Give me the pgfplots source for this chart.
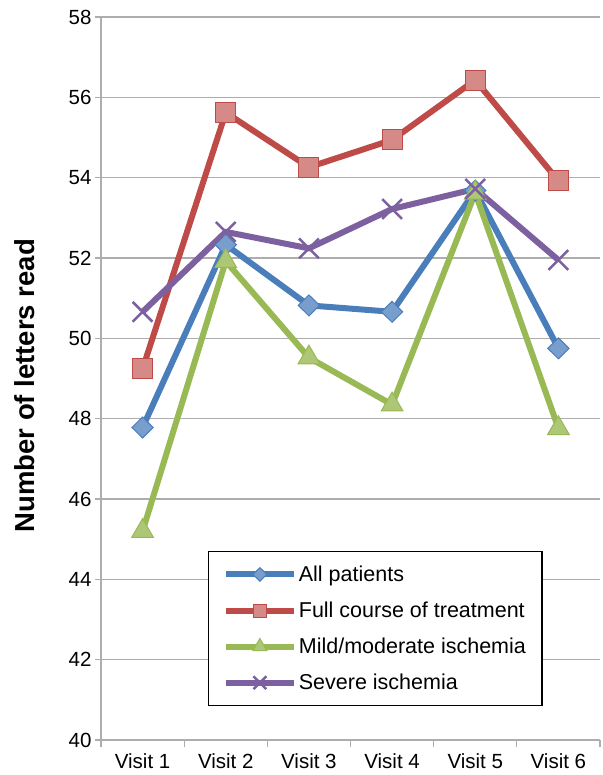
\documentclass[border=0pt]{standalone}
\usepackage{fontspec}
\setmainfont{Liberation Sans}
\usepackage{pgfplots}
\pgfplotsset{compat=1.18}

\definecolor{cblue}{HTML}{4A7EBB}
\definecolor{cred}{HTML}{BE4B48}
\definecolor{cgreen}{HTML}{98B954}
\definecolor{cpurple}{HTML}{7D60A0}
\definecolor{cgrid}{HTML}{ADADAD}

\newcommand{\tickfont}{\fontsize{20.5bp}{24bp}\selectfont}
\newcommand{\legfont}{\fontsize{21.5bp}{25bp}\selectfont}

\begin{document}
\begin{tikzpicture}
\path[use as bounding box] (-101bp,-35bp) rectangle (502bp,740bp);
\begin{axis}[
	at={(0,0)}, anchor=south west,
	scale only axis,
	width=499bp, height=723bp,
	xmin=-0.5, xmax=5.5,
	ymin=40, ymax=58,
	ytick={40,42,...,58},
	xtick={0,...,5},
	xticklabels={Visit 1,Visit 2,Visit 3,Visit 4,Visit 5,Visit 6},
	minor xtick={-0.5,0.5,...,5.5},
	major x tick style={draw=none},
	minor tick length=7bp,
	major tick length=6bp,
	tick align=outside,
	tick style={cgrid, line width=1.2bp},
	axis lines*=left,
	axis line style={cgrid, line width=1.5bp, -},
	ymajorgrids,
	grid style={cgrid, line width=1.2bp},
	ticklabel style={font=\tickfont},
	/pgf/number format/assume math mode=true,
	xticklabel style={yshift=-4bp},
	ylabel={\bfseries Number of letters read},
	ylabel style={font=\fontsize{27.5bp}{32bp}\selectfont, at={(axis description cs:-0.152,0.49)}, anchor=center},
	clip=false,
	legend cell align=left,
	legend style={at={(0.215,0.261)}, anchor=north west, draw=black, line width=1.2bp,
		fill=white, font=\legfont, inner xsep=14bp, inner ysep=12bp, row sep=15bp,
		nodes={inner sep=2bp}},
	legend image code/.code={\draw[mark repeat=2, mark phase=2, line width=6bp,
		every mark/.append style={scale=0.65}]
		plot coordinates {(0bp,0bp) (34bp,0bp) (68bp,0bp)};},
	every axis plot/.append style={line width=6bp},
]
\addplot[cblue, mark=diamond*, mark size=10.5bp,
	mark options={xscale=1.35, fill=cblue!75!white, draw=cblue, line width=1bp}]
	coordinates {(0,47.78) (1,52.33) (2,50.82) (3,50.66) (4,53.68) (5,49.75)};
\addlegendentry{All patients}
\addplot[cred, mark=square*, mark size=10bp,
	mark options={fill=cred!65!white, draw=cred, line width=1bp}]
	coordinates {(0,49.24) (1,55.62) (2,54.26) (3,54.94) (4,56.43) (5,53.92)};
\addlegendentry{Full course of treatment}
\addplot[cgreen, mark=triangle*, mark size=12.5bp,
	mark options={fill=cgreen!80!white, draw=cgreen, line width=1bp}]
	coordinates {(0,45.2) (1,51.92) (2,49.52) (3,48.35) (4,53.62) (5,47.76)};
\addlegendentry{Mild/moderate ischemia}
\addplot[cpurple, mark=x, mark size=14bp,
	mark options={line width=2.5bp}]
	coordinates {(0,50.66) (1,52.65) (2,52.24) (3,53.22) (4,53.72) (5,51.95)};
\addlegendentry{Severe ischemia}
\end{axis}
\end{tikzpicture}
\end{document}
